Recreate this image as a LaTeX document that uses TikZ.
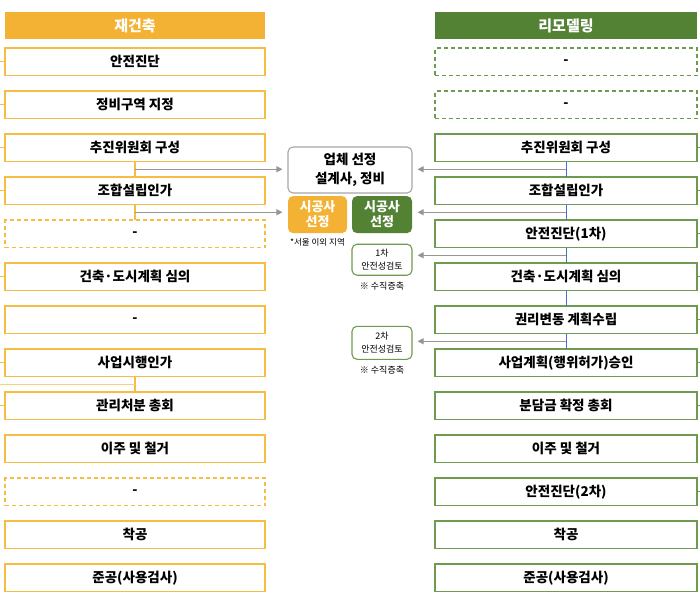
\documentclass[tikz,border=0pt]{standalone}
\usepackage{fontspec}
\setmainfont{Noto Sans CJK KR}
\usepackage{tikz}
\usetikzlibrary{positioning,calc,arrows.meta}
\usepackage{xcolor}

\definecolor{rebuild}{HTML}{F3B233}
\definecolor{rebuildline}{HTML}{F7BC42}
\definecolor{remodel}{HTML}{548235}
\definecolor{remodelline}{HTML}{6E9B4F}
\definecolor{linkgray}{HTML}{969696}
\definecolor{boxgray}{HTML}{A6A6A6}
\definecolor{stemblue}{HTML}{4472C4}

\tikzset{
  head/.style={minimum width=260pt, minimum height=27pt, inner sep=0pt, outer sep=0pt,
    text=white, font=\bfseries\fontsize{15}{16}\selectfont},
  stage/.style={draw, line width=1.3pt, fill=white, minimum width=260pt, minimum height=27.5pt,
    inner sep=0pt, outer sep=0pt, font=\bfseries\fontsize{13.5}{15}\selectfont},
  lstage/.style={stage, draw=rebuildline},
  rstage/.style={stage, draw=remodelline, minimum width=262pt},
  blank/.style={dash pattern=on 4pt off 3pt},
  midbox/.style={rounded corners=5pt, line width=1.1pt, inner sep=0pt, align=center},
  link/.style={draw=linkgray, line width=1.1pt, -{Triangle[length=6pt,width=6pt]}, shorten >=5pt},
  lstem/.style={draw=rebuildline, line width=1.1pt},
  rstem/.style={draw=stemblue, line width=0.7pt},
  tick/.style={line width=0.8pt},
  note/.style={font=\fontsize{9}{10}\selectfont}
}

\begin{document}
\begin{tikzpicture}[x=1pt, y=-1pt]
\useasboundingbox (0,0) rectangle (700,592);
\coordinate (ledge) at (0,0);
\coordinate (redge) at (700,0);

% 재건축
\node[head, fill=rebuild] (lhead) at (135,25.5) {재건축};
\node[lstage, below=9pt of lhead] (l1) {안전진단};
\node[lstage, below=15.5pt of l1] (l2) {정비구역 지정};
\node[lstage, below=15.5pt of l2] (l3) {추진위원회 구성};
\node[lstage, below=15.5pt of l3] (l4) {조합설립인가};
\node[lstage, blank, below=15.5pt of l4] (l5) {-};
\node[lstage, below=15.5pt of l5] (l6) {건축·도시계획 심의};
\node[lstage, below=15.5pt of l6] (l7) {-};
\node[lstage, below=15.5pt of l7] (l8) {사업시행인가};
\node[lstage, below=15.5pt of l8] (l9) {관리처분 총회};
\node[lstage, below=15.5pt of l9] (l10) {이주 및 철거};
\node[lstage, blank, below=15.5pt of l10] (l11) {-};
\node[lstage, below=15.5pt of l11] (l12) {착공};
\node[lstage, below=15.5pt of l12] (l13) {준공(사용검사)};

% 리모델링
\node[head, fill=remodel, minimum width=262pt] (rhead) at (566,25.5) {리모델링};
\node[rstage, blank, below=9pt of rhead] (r1) {-};
\node[rstage, blank, below=15.5pt of r1] (r2) {-};
\node[rstage, below=15.5pt of r2] (r3) {추진위원회 구성};
\node[rstage, below=15.5pt of r3] (r4) {조합설립인가};
\node[rstage, below=15.5pt of r4] (r5) {안전진단(1차)};
\node[rstage, below=15.5pt of r5] (r6) {건축·도시계획 심의};
\node[rstage, below=15.5pt of r6] (r7) {권리변동 계획수립};
\node[rstage, below=15.5pt of r7] (r8) {사업계획(행위허가)승인};
\node[rstage, below=15.5pt of r8] (r9) {분담금 확정 총회};
\node[rstage, below=15.5pt of r9] (r10) {이주 및 철거};
\node[rstage, below=15.5pt of r10] (r11) {안전진단(2차)};
\node[rstage, below=15.5pt of r11] (r12) {착공};
\node[rstage, below=15.5pt of r12] (r13) {준공(사용검사)};

% 가운데
\node[midbox, draw=boxgray, fill=white, minimum width=124pt, minimum height=46pt,
  font=\bfseries\fontsize{13.5}{19}\selectfont] (firm) at (350,170) {업체 선정\\설계사, 정비};
\node[midbox, fill=rebuild, text=white, minimum width=59pt, minimum height=37pt,
  font=\bfseries\fontsize{13}{15}\selectfont, below right=2pt and 0pt of firm.south west] (osel) {시공사\\선정};
\node[midbox, fill=remodel, text=white, minimum width=60pt, minimum height=37pt,
  font=\bfseries\fontsize{13}{15}\selectfont, below left=2pt and 0pt of firm.south east] (gsel) {시공사\\선정};
\node[note, font=\fontsize{8.5}{9}\selectfont, below=1pt of osel] (seoul) {*서울 이외 지역};
\node[midbox, draw=remodelline, fill=white, minimum width=60pt, minimum height=31pt,
  font=\fontsize{9}{13}\selectfont, below=10pt of gsel] (chk1) {1차\\안전성검토};
\node[note, below=3pt of chk1] (vert1) {※ 수직증축};
\node[midbox, draw=remodelline, fill=white, minimum width=60pt, minimum height=33pt,
  font=\fontsize{9}{13}\selectfont, below=50pt of chk1] (chk2) {2차\\안전성검토};
\node[note, below=3pt of chk2] (vert2) {※ 수직증축};

% 왼쪽 연결
\foreach \n in {l1,l2,l3,l4,l6,l8,l9}
  \draw[tick, rebuildline] (\n.west) -- (\n.west -| ledge);
\draw[lstem] (l3.south) -- coordinate (la) (l4.north);
\draw[link] (la) -- (la -| firm.west);
\draw[lstem] (l4.south) -- coordinate (lb) (l5.north);
\draw[link] (lb) -- (lb -| osel.west);
\draw[lstem] (l8.south) -- coordinate (lc) (l9.north);
\draw[lstem, draw=rebuildline!70] (lc) -- (lc -| ledge);

% 오른쪽 연결
\foreach \n in {r3,r4,r5,r6,r7,r8,r9,r11}
  \draw[tick, remodelline] (\n.east) -- (\n.east -| redge);
\draw[rstem] (r3.south) -- coordinate (ra) (r4.north);
\draw[rstem] (r4.south) -- coordinate (rb) (r5.north);
\draw[rstem] (r5.south) -- coordinate (rc) (r6.north);
\draw[rstem] (r6.south) -- (r7.north);
\draw[rstem] (r7.south) -- coordinate (rd) (r8.north);
\draw[link] (ra) -- (ra -| firm.east);
\draw[link] (rb) -- (rb -| gsel.east);
\draw[link] (rc) -- (rc -| chk1.east);
\draw[link] (rd) -- (rd -| chk2.east);
\end{tikzpicture}
\end{document}
